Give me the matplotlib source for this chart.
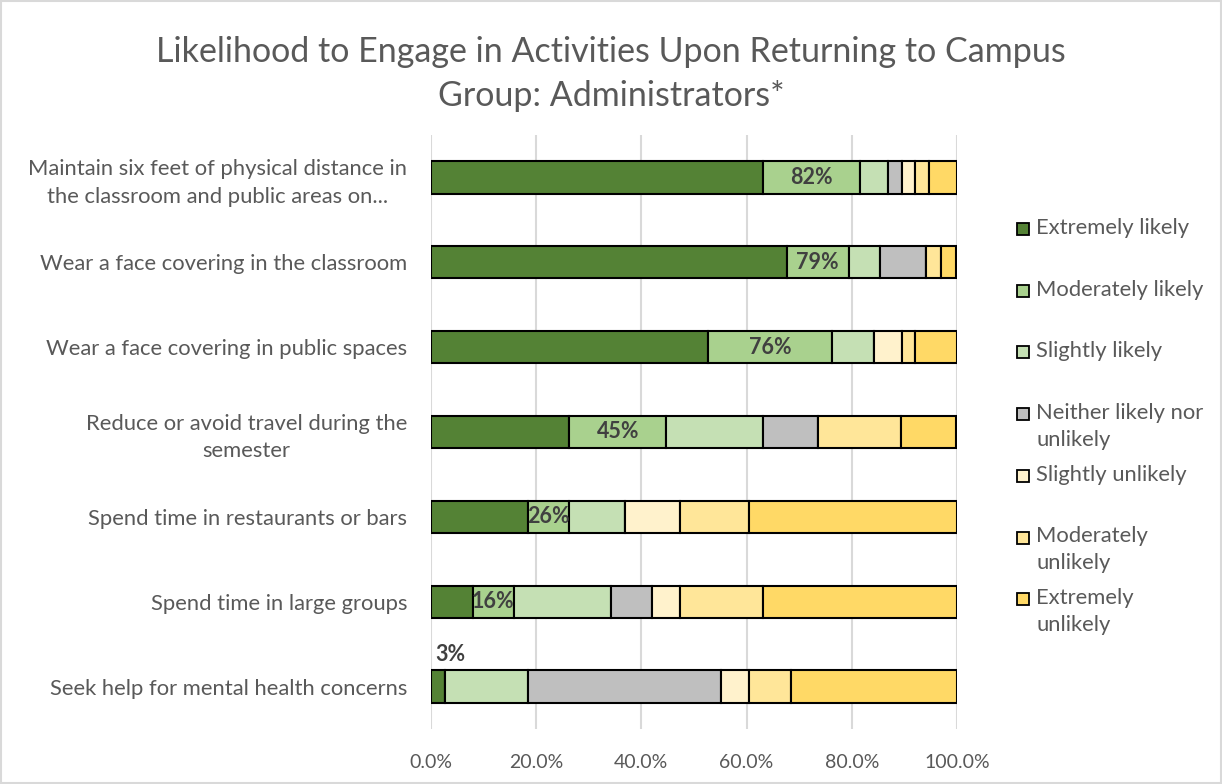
import numpy as np
import matplotlib.pyplot as plt
from matplotlib.patches import Rectangle
from matplotlib.ticker import PercentFormatter

plt.rcParams['font.family'] = ['Lato', 'DejaVu Sans']

activities = ['Maintain six feet of physical distance in\nthe classroom and public areas on...',
              'Wear a face covering in the classroom',
              'Wear a face covering in public spaces',
              'Reduce or avoid travel during the\nsemester',
              'Spend time in restaurants or bars',
              'Spend time in large groups',
              'Seek help for mental health concerns']

responses = ['Extremely likely', 'Moderately likely', 'Slightly likely',
             'Neither likely nor unlikely', 'Slightly unlikely',
             'Moderately unlikely', 'Extremely unlikely']
legend_labels = ['Extremely likely', 'Moderately likely', 'Slightly likely',
                 'Neither likely nor\nunlikely', 'Slightly unlikely',
                 'Moderately\nunlikely', 'Extremely\nunlikely']

# percent of respondents, one list per response category (rows follow activities)
extremely_likely = [63.2, 67.6, 52.6, 26.3, 18.4, 7.9, 2.6]
moderately_likely = [18.4, 11.8, 23.7, 18.4, 7.9, 7.9, 0.0]
slightly_likely = [5.3, 5.9, 7.9, 18.4, 10.5, 18.4, 15.8]
neither = [2.6, 8.8, 0.0, 10.5, 0.0, 7.9, 36.8]
slightly_unlikely = [2.6, 0.0, 5.3, 0.0, 10.5, 5.3, 5.3]
moderately_unlikely = [2.6, 2.9, 2.6, 15.8, 13.2, 15.8, 7.9]
extremely_unlikely = [5.3, 2.9, 7.9, 10.5, 39.5, 36.8, 31.6]

series = [extremely_likely, moderately_likely, slightly_likely, neither,
          slightly_unlikely, moderately_unlikely, extremely_unlikely]
colors = ['#548235', '#A9D18E', '#C5E0B4', '#BFBFBF', '#FFF2CC', '#FFE699', '#FFD966']

text_color = '#595959'

fig = plt.figure(figsize=(12.22, 7.84), dpi=100)
ax = fig.add_axes([0.3527, 0.0702, 0.4304, 0.7576])

y = np.arange(len(activities))
left = np.zeros(len(activities))
for vals, col, name in zip(series, colors, responses):
    ax.barh(y, vals, left=left, height=0.38, color=col, edgecolor='black',
            linewidth=1.5, label=name, zorder=3)
    left += np.array(vals)

# labels: share likely (extremely + moderately)
likely = np.array(extremely_likely) + np.array(moderately_likely)
for i in range(len(activities)):
    lab = '%d%%' % round(likely[i])
    if moderately_likely[i] > 0:
        ax.text(extremely_likely[i] + moderately_likely[i] / 2, y[i], lab,
                ha='center', va='center', fontsize=15.5, fontweight='bold',
                color='#404040', zorder=4)
    else:
        ax.annotate(lab, (likely[i], y[i] - 0.19), xytext=(4, 4),
                    textcoords='offset points', ha='center', va='bottom',
                    fontsize=15.5, fontweight='bold', color='#404040')

ax.set_xlim(0, 100)
ax.set_ylim(len(activities) - 0.5, -0.5)
ax.set_xticks(np.arange(0, 101, 20))
ax.xaxis.set_major_formatter(PercentFormatter(decimals=1))
ax.set_yticks(y)
ax.set_yticklabels(activities, multialignment='center', linespacing=1.45)
ax.tick_params(axis='x', length=0, labelsize=14, labelcolor=text_color, pad=18)
ax.tick_params(axis='y', length=0, labelsize=15.8, labelcolor=text_color, pad=17)
ax.grid(axis='x', color='#D9D9D9', linewidth=1.5, zorder=0)
for s in ax.spines.values():
    s.set_visible(False)

fig.text(0.5, 0.906, 'Likelihood to Engage in Activities Upon Returning to Campus\nGroup: Administrators*',
         ha='center', va='center', fontsize=24.5, color=text_color, linespacing=1.45)

# legend, one even slot per entry like the original
for i, (lab, col) in enumerate(zip(legend_labels, colors)):
    ytop = 1 - (218 + i * 61.7) / 784
    fig.patches.append(Rectangle((1017 / 1222, ytop - 17 / 784), 12 / 1222, 12 / 784,
                                 transform=fig.transFigure, facecolor=col,
                                 edgecolor='black', linewidth=1.3))
    fig.text(1036 / 1222, ytop, lab, ha='left', va='top', fontsize=15.8,
             color=text_color, linespacing=1.4)

fig.patches.append(Rectangle((0.001, 0.001), 0.998, 0.998, transform=fig.transFigure,
                             fill=False, edgecolor='#D9D9D9', linewidth=1.5))

fig.savefig('out.png', dpi=100)
